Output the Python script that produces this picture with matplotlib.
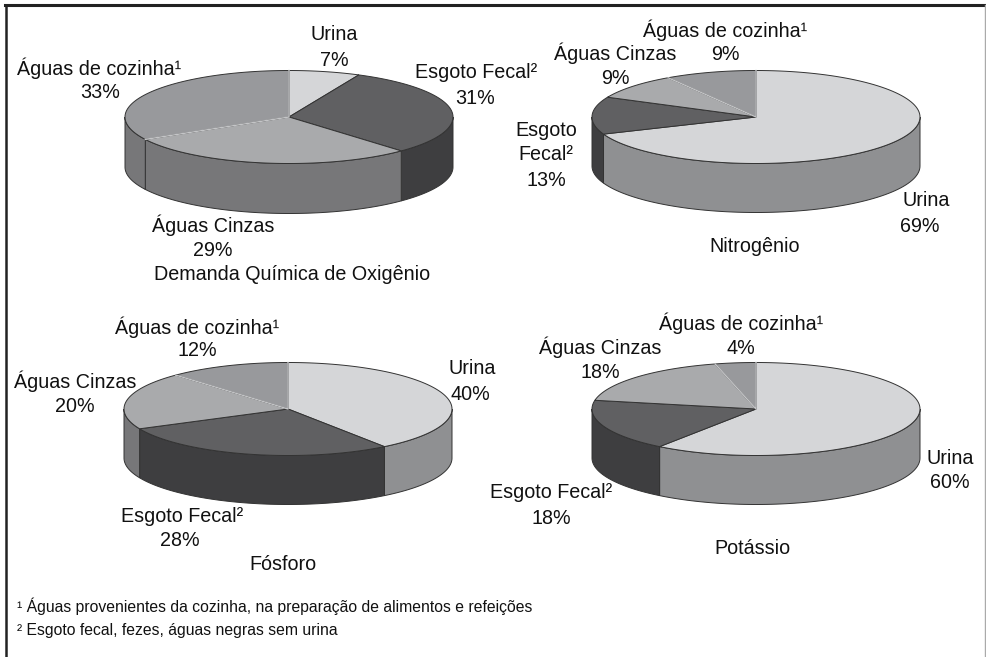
import numpy as np
import matplotlib
matplotlib.use('Agg')
import matplotlib.pyplot as plt

plt.rcParams['font.family'] = ['Liberation Sans', 'DejaVu Sans']

# percent shares, clockwise from 12 o'clock
dqo = [7, 31, 29, 33]
nitrogenio = [69, 13, 9, 9]
fosforo = [40, 28, 20, 12]
potassio = [60, 18, 18, 4]
names = ['urina', 'esgoto', 'cinzas', 'cozinha']

footnote_1 = '¹ Águas provenientes da cozinha, na preparação de alimentos e refeições'
footnote_2 = '² Esgoto fecal, fezes, águas negras sem urina'

top_colors = {'urina': '#d5d6d8', 'esgoto': '#606062', 'cinzas': '#a9aaac', 'cozinha': '#98999c'}
side_colors = {'urina': '#8f9092', 'esgoto': '#3e3e40', 'cinzas': '#777779', 'cozinha': '#777779'}
edge = '#333333'


def ellipse(cx, cy, rx, ry, t):
    return cx + rx * np.cos(t), cy - ry * np.sin(t)


def pie3d(ax, values, cx, cy, rx, ry, depth):
    edges = 90 - np.cumsum([0] + list(values)) * 3.6
    # walls first, only the front half shows
    for i, name in enumerate(names):
        a = min(max(edges[i], -180), 0)
        b = max(edges[i + 1], -180)
        if a <= b:
            continue
        t = np.radians(np.linspace(a, b, 80))
        x, y = ellipse(cx, cy, rx, ry, t)
        ax.fill(np.r_[x, x[::-1]], np.r_[y, y[::-1] + depth], color=side_colors[name],
                ec=edge, lw=0.7, zorder=2)
    for i, name in enumerate(names):
        t = np.radians(np.linspace(edges[i], edges[i + 1], 120))
        x, y = ellipse(cx, cy, rx, ry, t)
        ax.fill(np.r_[cx, x], np.r_[cy, y], color=top_colors[name], ec=edge, lw=0.7, zorder=3)
        if name == 'cozinha':
            # the light rim the kitchen slice has in the print
            ax.plot([x[0], cx, x[-1]], [y[0], cy, y[-1]], color='#c4c5c7', lw=1.0, zorder=4)


def label(ax, x, y, s, size=14.25):
    ax.text(x, y, s, ha='center', va='center', fontsize=size, color='#111111', zorder=5)


fig = plt.figure(figsize=(9.86, 6.57), dpi=100)
ax = fig.add_axes([0, 0, 1, 1])
ax.set_xlim(0, 986)
ax.set_ylim(657, 0)
ax.axis('off')

# frame: heavy top and left, thin grey right, nothing at the bottom
ax.plot([6, 6], [5, 657], color='#222222', lw=1.8)
ax.plot([5, 985], [5, 5], color='#222222', lw=2.2)
ax.plot([985, 985], [5, 657], color='#aaaaaa', lw=1)

pie3d(ax, dqo, 289, 117, 164, 46.5, 50)
pie3d(ax, nitrogenio, 756, 117, 164, 46.5, 49)
pie3d(ax, fosforo, 288, 409, 164, 46.5, 49)
pie3d(ax, potassio, 756, 409, 164, 46.5, 49)

label(ax, 334, 35, 'Urina')
label(ax, 334, 60, '7%')
label(ax, 99, 68, 'Águas de cozinha¹')
label(ax, 100, 93, '33%')
label(ax, 476, 73, 'Esgoto Fecal²')
label(ax, 475, 98, '31%')
label(ax, 213, 225, 'Águas Cinzas')
label(ax, 213, 250, '29%')
label(ax, 292, 275, 'Demanda Química de Oxigênio')

label(ax, 725, 30, 'Águas de cozinha¹')
label(ax, 725, 55, '9%')
label(ax, 615, 53, 'Águas Cinzas')
label(ax, 615, 78, '9%')
label(ax, 546, 130, 'Esgoto')
label(ax, 546, 155, 'Fecal²')
label(ax, 546, 180, '13%')
label(ax, 926, 201, 'Urina')
label(ax, 920, 226, '69%')
label(ax, 755, 247, 'Nitrogênio')

label(ax, 197, 327, 'Águas de cozinha¹')
label(ax, 197, 351, '12%')
label(ax, 75, 381, 'Águas Cinzas')
label(ax, 75, 406, '20%')
label(ax, 472, 369, 'Urina')
label(ax, 470, 394, '40%')
label(ax, 182, 516, 'Esgoto Fecal²')
label(ax, 180, 541, '28%')
label(ax, 283, 565, 'Fósforo')

label(ax, 741, 323, 'Águas de cozinha¹')
label(ax, 741, 348, '4%')
label(ax, 600, 347, 'Águas Cinzas')
label(ax, 600, 372, '18%')
label(ax, 950, 458, 'Urina')
label(ax, 950, 483, '60%')
label(ax, 551, 493, 'Esgoto Fecal²')
label(ax, 551, 518, '18%')
label(ax, 752, 548, 'Potássio')

ax.text(17, 606, footnote_1, ha='left', va='center', fontsize=11.35, color='#111111')
ax.text(17, 631, footnote_2, ha='left', va='center', fontsize=11.35, color='#111111')

fig.savefig('out.png', dpi=100)
